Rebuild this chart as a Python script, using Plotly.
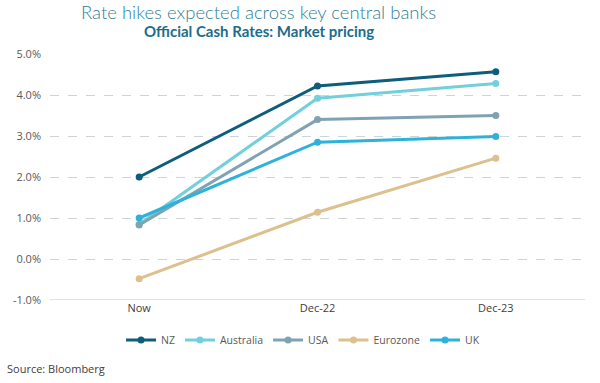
import plotly.graph_objects as go

categories = ["Now", "Dec-22", "Dec-23"]
series_names = ["NZ", "Australia", "USA", "Eurozone", "UK"]
nz = [2.00, 4.22, 4.57]
australia = [0.85, 3.92, 4.28]
usa = [0.83, 3.40, 3.50]
eurozone = [-0.48, 1.14, 2.46]
uk = [1.00, 2.85, 2.99]
y_ticks = [-1, 0, 1, 2, 3, 4, 5]
y_tick_labels = ["-1.0%", "0.0%", "1.0%", "2.0%", "3.0%", "4.0%", "5.0%"]

colors = ["#0d5d7b", "#72cfdc", "#7fa3b3", "#dcc08e", "#2fb2da"]
values = [nz, australia, usa, eurozone, uk]

fig = go.Figure()
for name, vals, c in zip(series_names, values, colors):
    fig.add_trace(go.Scatter(
        x=categories, y=vals, name=name, mode="lines+markers",
        line=dict(color=c, width=3), marker=dict(color=c, size=7),
    ))

fig.update_layout(
    width=600, height=383,
    margin=dict(l=50, r=15, t=54, b=83),
    paper_bgcolor="white", plot_bgcolor="white",
    font=dict(family="Open Sans, Noto Sans, sans-serif", size=11, color="#595959"),
    showlegend=True,
    legend=dict(orientation="h", x=0.473, xanchor="center", y=-0.163, yanchor="middle",
                font=dict(size=10.5, color="#595959"), itemwidth=30, tracegroupgap=0),
    xaxis=dict(range=[-0.5, 2.5], showgrid=False, showline=False, zeroline=False,
               ticks="", tickfont=dict(size=11, color="#404040")),
    yaxis=dict(range=[-1, 5], tickvals=y_ticks, ticktext=y_tick_labels,
               showgrid=True, gridcolor="#cdd4da", griddash="dash", gridwidth=1,
               zeroline=False, showline=False, ticks="", ticklabelstandoff=8,
               tickfont=dict(size=11, color="#595959")),
    shapes=[dict(type="line", xref="paper", yref="y", x0=0, x1=1, y0=-1, y1=-1,
                 line=dict(color="#d9d9d9", width=1.5))],
    annotations=[
        dict(text="Rate hikes expected across key central banks", xref="paper", yref="paper",
             x=0.3905, y=1.0, yshift=42, xanchor="center", yanchor="middle", showarrow=False,
             font=dict(family="Lato, sans-serif", size=18.5, color="#2f7f99", weight=300)),
        dict(text="<b>Official Cash Rates: Market pricing</b>", xref="paper", yref="paper",
             x=0.3905, y=1.0, yshift=23, xanchor="center", yanchor="middle", showarrow=False,
             font=dict(family="Lato, sans-serif", size=15, color="#1d6d8a")),
        dict(text="Source: Bloomberg", xref="paper", yref="paper", x=-0.085, y=0,
             yshift=-68, xanchor="left", yanchor="middle", showarrow=False,
             font=dict(size=11, color="#404040")),
    ],
)

fig.write_html("out.html", config={"displayModeBar": False},
               post_script="document.body.style.margin='0';document.body.style.padding='0';")
